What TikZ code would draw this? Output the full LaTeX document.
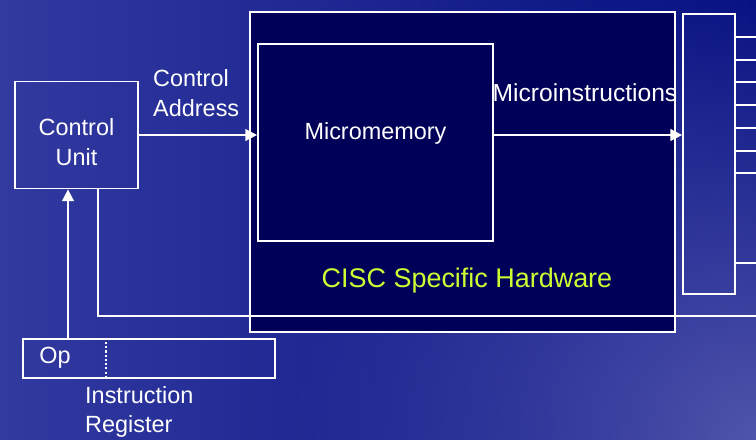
\documentclass[tikz,border=0pt]{standalone}
\usepackage{fontspec}
\setmainfont{Liberation Sans}
\usetikzlibrary{arrows.meta,fadings}
\definecolor{bgleft}{RGB}{50,58,160}
\definecolor{bgmid}{RGB}{4,14,128}
\definecolor{bgright}{RGB}{80,84,172}
\definecolor{hwfill}{RGB}{0,0,88}
\definecolor{hwtext}{RGB}{204,255,51}
\tikzfading[name=glow, inner color=transparent!0, outer color=transparent!100]
\tikzset{
  wire/.style={draw=white, line width=1.5pt},
  box/.style={wire, inner sep=0pt, anchor=center},
  lbl/.style={text=white, font=\fontsize{20}{25}\selectfont, inner sep=0pt}
}
\begin{document}
\begin{tikzpicture}[x=0.03cm, y=-0.03cm, >={Triangle[length=10pt,width=10pt]}]
  \useasboundingbox (0,0) rectangle (756,439);
  % background
  \begin{scope}
    \clip (0,0) rectangle (756,439);
    \shade[left color=bgleft, middle color=bgmid, right color=bgmid] (0,0) rectangle (756,439);
    \fill[bgright, path fading=glow] (756,439) circle (14cm);
  \end{scope}
  % boxes
  \node[box, fill=hwfill, minimum width=12.75cm, minimum height=9.6cm] (hw) at (462.5,172) {};
  \node[box, fill=hwfill, minimum width=7.05cm, minimum height=5.91cm] (mm) at (375.5,142.5) {};
  \node[box, minimum width=3.69cm, minimum height=3.21cm] (cu) at (76.5,135) {};
  \node[box, minimum width=1.56cm, minimum height=8.4cm] (bus) at (709,154) {};
  \node[box, minimum width=7.56cm, minimum height=1.17cm] (ir) at (149,358.5) {};
  \draw[white, line width=1.8pt, dash pattern=on 1.8pt off 1.8pt] (106,342) -- (106,376);
  % texts
  \node[lbl, align=center] at (76.5,142) {Control\\Unit};
  \node[lbl] at (375.5,133) {Micromemory};
  \node[lbl, align=left, anchor=west] at (153,93) {Control\\Address};
  \node[lbl, font=\fontsize{21}{24}\selectfont] at (585,93) {Microinstructions};
  \node[lbl, text=hwtext, font=\fontsize{23}{24}\selectfont] at (467,281) {CISC Specific Hardware};
  \node[lbl] at (55,358) {Op};
  \node[lbl, align=left, anchor=west] at (85,412) {Instruction\\Register};
  % connections
  \coordinate (opout) at (68,339);
  \coordinate (fbin) at (98,188);
  \coordinate (fbend) at (756,316);
  \draw[wire, ->] (cu.east) -- (cu.east -| mm.west);
  \draw[wire, ->] (cu.east -| mm.east) -- (cu.east -| bus.west);
  \draw[wire, ->] (opout) -- (opout |- cu.south);
  \draw[wire] (fbin) |- (fbend);
  \foreach \y in {37,60,82,105,128,151,173,263}
    \draw[wire] (bus.east |- 0,\y) -- (756,\y);
\end{tikzpicture}
\end{document}
